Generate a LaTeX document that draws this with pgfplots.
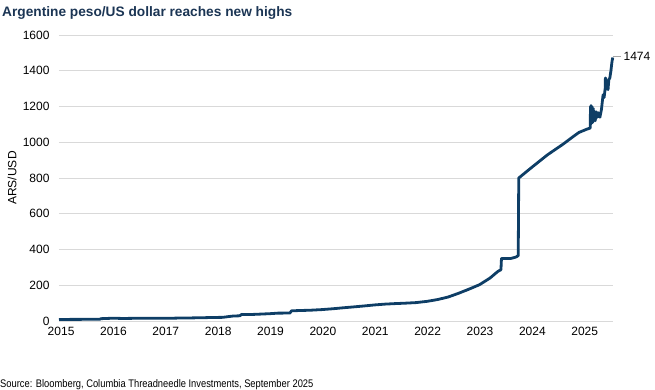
\documentclass[border=0pt]{standalone}
\usepackage{pgfplots}
\pgfplotsset{compat=1.18}
\usepackage{fontspec}
\setmainfont{Liberation Sans}
\definecolor{navy}{HTML}{0E3E66}
\definecolor{titlec}{HTML}{1B3554}
\definecolor{gridc}{HTML}{D9D9D9}
\pgfplotstableread{
x y
2015.17 8.75
2015.40 9.0
2015.60 9.25
2015.80 9.55
2015.95 9.8
2015.97 13.0
2016.10 14.5
2016.20 15.5
2016.40 14.2
2016.60 15.0
2016.90 15.8
2017.10 15.6
2017.30 15.4
2017.50 16.8
2017.70 17.3
2017.95 18.6
2018.10 19.7
2018.30 20.5
2018.40 24.5
2018.50 28
2018.62 29
2018.66 37
2018.80 36
2018.95 37.7
2019.20 41
2019.35 44
2019.58 44.5
2019.61 57
2019.80 59
2019.95 60
2020.20 64
2020.40 68.5
2020.60 74
2020.80 79
2020.99 84
2021.20 90
2021.40 94.5
2021.60 97.5
2021.80 100
2021.99 103
2022.20 110
2022.40 120
2022.60 134
2022.80 155
2022.99 177
2023.20 203
2023.40 240
2023.55 277
2023.61 287
2023.62 350
2023.80 350
2023.90 358
2023.94 366
2023.95 800
2024.20 860
2024.50 930
2024.80 990
2024.99 1032
2025.10 1055
2025.25 1073
2025.30 1078
2025.315 1080
2025.32 1200
2025.325 1100
2025.33 1205
2025.34 1120
2025.35 1200
2025.36 1110
2025.37 1190
2025.38 1130
2025.39 1175
2025.41 1120
2025.43 1170
2025.45 1140
2025.47 1165
2025.50 1140
2025.53 1185
2025.56 1265
2025.58 1250
2025.60 1300
2025.605 1360
2025.62 1340
2025.64 1300
2025.655 1295
2025.67 1350
2025.69 1360
2025.71 1400
2025.73 1450
2025.745 1474
}\ars
\begin{document}
\begin{tikzpicture}[x=1pt,y=1pt]
\path[use as bounding box] (0,0) rectangle (655,389);
\begin{axis}[
  at={(59pt,68pt)}, anchor=south west,
  scale only axis, width=554pt, height=286pt,
  xmin=2015.17, xmax=2025.75, ymin=0, ymax=1600,
  ytick={0,200,400,600,800,1000,1200,1400,1600},
  xtick={2015.21,2016.21,2017.21,2018.21,2019.21,2020.21,2021.21,2022.21,2023.21,2024.21,2025.21},
  xticklabels={2015,2016,2017,2018,2019,2020,2021,2022,2023,2024,2025},
  axis x line*=bottom, axis y line*=left,
  x axis line style={draw=gridc, line width=0.8pt, -},
  y axis line style={draw=none},
  major tick length=0pt,
  ymajorgrids, grid style={draw=gridc, line width=0.8pt},
  tick label style={font=\fontsize{12}{14}\selectfont, text=black},
  /pgf/number format/assume math mode=true,
  /pgf/number format/1000 sep={},
  yticklabel style={xshift=-6pt},
  xticklabel style={yshift=-3pt},
  clip=false,
]
\addplot[navy, line width=2.8pt, line join=round] table[x=x,y=y] {\ars};
\draw[gray!70, line width=0.7pt] (axis cs:2025.745,1482) -- (axis cs:2025.91,1482);
\node[anchor=west, font=\fontsize{12}{14}\selectfont, inner sep=1pt] at (axis cs:2025.93,1482) {1474};
\end{axis}
\node[anchor=base west, font=\bfseries\fontsize{13.7}{16}\selectfont, text=titlec, inner sep=0pt] at (2,372) {Argentine peso/US dollar reaches new highs};
\node[rotate=90, font=\fontsize{12}{14}\selectfont, inner sep=0pt] at (12,211) {ARS/USD};
\node[anchor=base west, font=\fontsize{11}{13}\selectfont, inner sep=0pt] at (0,2) {\scalebox{0.85}[1]{Source: Bloomberg, Columbia Threadneedle Investments, September 2025}};
\end{tikzpicture}
\end{document}
